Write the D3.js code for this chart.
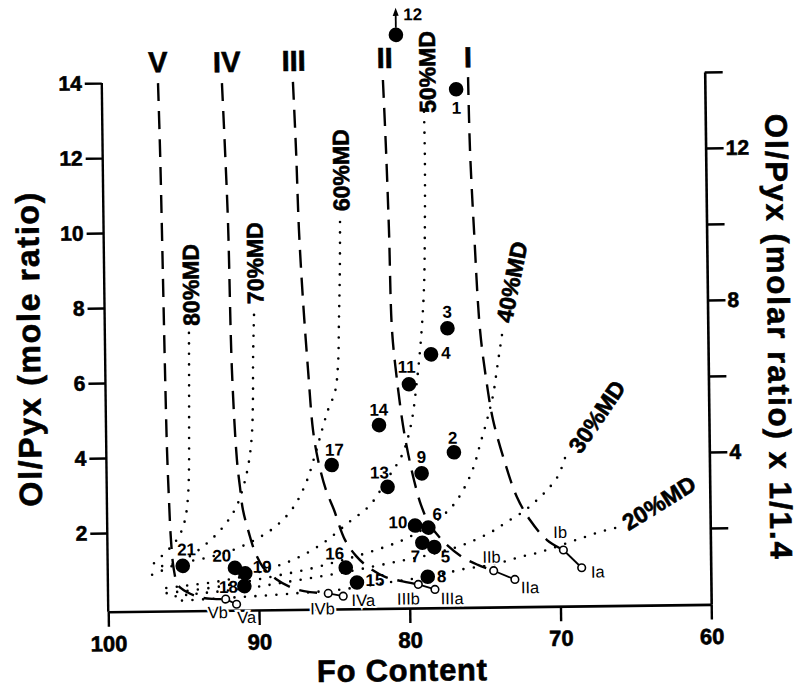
<!DOCTYPE html>
<html><head><meta charset="utf-8">
<script src="https://cdn.jsdelivr.net/npm/d3@7"></script>
<style>
body{margin:0;background:#fff}
svg{display:block}
text{font-family:"Liberation Sans",Arial,Helvetica,sans-serif;fill:#000}
.heavy{stroke:#000;stroke-width:0.6px}
</style>
</head><body>
<svg id="c" width="801" height="691"></svg>
<script>
// ---------------- DATA ----------------
const xTicks = [100, 90, 80, 70, 60];
const yTicksLeft = [2, 4, 6, 8, 10, 12, 14];
const yTicksRight = [2, 4, 6, 8, 10, 12, 14];
const yRightLabeled = [4, 8, 12];

// samples (filled circles)
const sampleIds   = ["1","12","3","4","11","14","2","9","17","13","10","6","7","5","8","15","16","21","20","19","18"];
const sampleFo    = [76.5,80.45,77.27,78.38,79.87,81.89,76.94,79.1,85.06,81.37,79.58,78.7,79.11,78.32,78.78,83.48,84.21,95.02,91.56,90.88,90.95];
const sampleRatio = [13.72,15.19,7.35,6.66,5.87,4.79,4.04,3.49,3.74,3.14,2.10,2.04,1.64,1.52,0.73,0.60,1.0,1.10,1.03,0.88,0.54];

// source compositions (open circles)
const srcIds   = ["Ia","Ib","IIa","IIb","IIIa","IIIb","IVa","IVb","Va","Vb"];
const srcFo    = [68.56,69.76,73.0,74.4,78.31,79.41,84.4,85.39,91.48,92.2];
const srcRatio = [0.92,1.40,0.63,0.87,0.39,0.53,0.24,0.32,0.06,0.20];

// residue trends (dashed), [Fo, Ol/Pyx], ending at the "b" source
const trendNames = ["I","II","III","IV","V"];
const trendI   = [[75.7,14.04],[75.63,12.1],[75.43,9.96],[75.11,7.29],[74.69,5.82],[74.32,4.89],[73.56,3.74],[72.8,2.83],[71.95,2.21],[70.84,1.67],[69.76,1.40]];
const trendII  = [[81.35,13.99],[81.2,12.12],[81.07,9.99],[80.95,7.32],[80.66,5.99],[80.3,4.78],[79.99,4.04],[79.61,3.31],[79.17,2.65],[78.59,2.11],[77.67,1.65],[76.49,1.25],[75.44,1.03],[74.4,0.87]];
const trendIII = [[87.32,13.97],[87.17,12.15],[87.04,10.02],[86.83,8.15],[86.55,6.28],[86.27,4.68],[85.96,3.88],[85.46,3.08],[84.94,2.54],[84.24,1.74],[83.52,1.31],[82.73,1.01],[81.61,0.74],[80.62,0.63],[79.41,0.53]];
const trendIV  = [[92.03,13.96],[91.88,12.18],[91.74,10.23],[91.6,6.31],[91.34,3.90],[91.16,3.18],[90.98,2.57],[90.6,1.95],[90.22,1.45],[89.7,1.04],[88.85,0.72],[87.73,0.47],[86.6,0.36],[85.39,0.32]];
const trendV   = [[96.27,13.98],[96.19,12.2],[96.13,10.06],[96.04,6.33],[95.97,4.19],[95.88,2.86],[95.78,1.79],[95.61,0.99],[95.35,0.59],[94.76,0.40],[93.91,0.26],[93.05,0.21],[92.2,0.20]];

// melting-degree lines (dotted)
const mdNames = ["80%MD","70%MD","60%MD","50%MD","40%MD","30%MD","20%MD"];
const md80 = [[94.42,7.31],[94.45,6.05],[94.49,4.72],[94.53,3.65],[94.61,2.98],[94.77,2.45],[95.04,2.06],[95.52,1.73],[96.19,1.45],[97.06,1.13]];
const md70 = [[90.09,7.77],[90.19,6.57],[90.23,5.50],[90.33,4.57],[90.55,3.85],[90.9,3.24],[91.38,2.69],[91.98,2.29],[92.66,1.97],[93.53,1.65],[94.53,1.36],[95.74,1.10],[97.07,0.87]];
const md60 = [[84.31,10.22],[84.36,8.94],[84.46,7.61],[84.56,6.41],[84.78,5.69],[85.26,5.21],[85.67,4.68],[86.16,4.01],[86.78,3.27],[87.66,2.61],[88.8,2.13],[90.21,1.77],[91.87,1.48],[93.54,1.30],[95.21,1.18],[96.86,1.07]];
const md50 = [[78.65,13.13],[78.63,11.85],[78.69,9.98],[78.8,8.38],[79.04,7.05],[79.33,5.98],[79.77,4.78],[80.39,3.98],[81.34,3.38],[82.55,2.66],[84.03,2.19],[85.7,1.66],[87.44,1.27],[89.1,1.02],[90.9,0.81],[92.9,0.66],[94.89,0.57],[96.75,0.49]];
const md40 = [[73.66,7.15],[73.98,6.35],[74.3,5.55],[74.72,4.89],[75.21,4.23],[75.62,3.67],[76.17,3.17],[76.91,2.69],[77.78,2.34],[78.92,2.03],[80.26,1.74],[81.59,1.54],[83.26,1.33],[84.92,1.15],[86.92,0.95],[88.91,0.80],[90.91,0.65],[92.9,0.52],[94.89,0.43],[96.55,0.36]];
const md30 = [[69.58,3.85],[70.06,3.37],[70.73,3.03],[71.47,2.74],[72.41,2.43],[73.48,2.17],[74.41,1.93],[75.48,1.72],[76.61,1.54],[77.94,1.39],[79.28,1.26],[80.6,1.16],[82.27,1.03],[84.27,0.88],[86.26,0.75],[88.25,0.63],[90.25,0.51],[92.24,0.42],[94.23,0.35],[96.03,0.27]];
const md20 = [[66.31,1.97],[67.32,1.87],[68.32,1.74],[69.31,1.61],[70.45,1.46],[71.51,1.33],[72.64,1.23],[73.77,1.10],[74.97,1.0],[76.3,0.93],[77.63,0.82],[78.96,0.73],[80.3,0.65],[81.62,0.58],[82.95,0.50],[84.28,0.43],[85.61,0.38],[87.26,0.34],[89.25,0.29],[91.25,0.25],[93.24,0.21],[95.36,0.17]];
const mdLabelFo    = [94.25, 89.98, 84.2, 78.4, 72.95, 67.42, 63.38];
const mdLabelRatio = [8.59, 9.15, 11.6, 14.19, 8.56, 4.94, 2.62];

// ---------------- STYLE ----------------
const mdAngle = [-90,-90,-90,-90,-78,-55,-31];
const sampleLabelOff = {"1":[0,19],"12":[17,-20],"3":[0,-16],"4":[15,-1],"11":[-2,-17],"14":[0,-15],"2":[-1,-14],"9":[0,-16],"17":[3,-15],"13":[-8,-14],"10":[-17,-3],"6":[9,-13],"7":[-7,14],"5":[11,10],"8":[14,0],"15":[18,-2],"16":[-11,-14],"21":[4,-16],"20":[-13,-12],"19":[17,-6],"18":[-16,1]};
const srcLabelOff = {"Ia":[16,4],"Ib":[-3,-18],"IIa":[15,8],"IIb":[-2,-14],"IIIa":[17,9],"IIIb":[-10,14],"IVa":[20,4],"IVb":[-6,15],"Va":[10,13],"Vb":[-8,13]};
const trendLabelOff = [[0,-10],[2,-12],[1,-11],[5,-11],[0,-11]];

// ---------------- CHART ----------------
const svg = d3.select("#c");
const g = svg.append("g").attr("transform","rotate(-0.7,405,345)");

const x  = d3.scaleLinear().domain([100,60]).range([105,708]);
const y  = d3.scaleLinear().domain([0,14]).range([604.4,79.4]);
const yR = d3.scaleLinear().domain([0,14]).range([607.7,75.7]);
const baseY = y(-0.1);

function styleAxis(sel, fs){
  sel.attr("font-family","'Liberation Sans',Arial,sans-serif").attr("font-size",fs).attr("font-weight","bold");
  sel.selectAll("line").attr("stroke","#000").attr("stroke-width",2.4);
  sel.selectAll("path.domain").attr("stroke","#000").attr("stroke-width",2.6);
  sel.selectAll("text").attr("fill","#000").attr("class","heavy");
}

// bottom axis
const xa = g.append("g").attr("transform",`translate(0,${baseY})`)
  .call(d3.axisBottom(x).tickValues(xTicks).tickSize(15).tickSizeOuter(0).tickPadding(9).tickFormat(d3.format("d")));
styleAxis(xa, 22);

// left axis
const ya = g.append("g").attr("transform",`translate(${x(100)},0)`)
  .call(d3.axisLeft(y).tickValues(yTicksLeft).tickSize(17).tickPadding(3));
ya.select(".domain").remove();
ya.append("line").attr("x1",0).attr("x2",0).attr("y1",y(14)).attr("y2",baseY);
styleAxis(ya, 21);

// right axis
const yra = g.append("g").attr("transform",`translate(${x(60)},0)`)
  .call(d3.axisRight(yR).tickValues(yTicksRight).tickSize(18).tickSizeOuter(0).tickPadding(2)
    .tickFormat(d => yRightLabeled.includes(d) ? d : ""));
styleAxis(yra, 21);

// titles
g.append("text").attr("class","heavy").attr("transform","translate(40,345) rotate(-90)")
  .attr("text-anchor","middle").attr("font-size",32).attr("font-weight","bold")
  .attr("textLength",314).attr("lengthAdjust","spacing")
  .text("Ol/Pyx (mole ratio)");
g.append("text").attr("class","heavy").attr("transform","translate(768,341) rotate(90)")
  .attr("text-anchor","middle").attr("font-size",31).attr("font-weight","bold")
  .attr("textLength",445).attr("lengthAdjust","spacing")
  .text("Ol/Pyx (molar ratio) x 1/1.4");
g.append("text").attr("class","heavy").attr("x",398).attr("y",681)
  .attr("text-anchor","middle").attr("font-size",31).attr("font-weight","bold")
  .attr("textLength",170).attr("lengthAdjust","spacing")
  .text("Fo Content");

const line = d3.line().x(d => x(d[0])).y(d => y(d[1])).curve(d3.curveCatmullRom.alpha(0.5));

// dotted MD lines
const mdSeries = [md80, md70, md60, md50, md40, md30, md20];
mdSeries.forEach(s => {
  g.append("path").attr("d", line(s)).attr("fill","none").attr("stroke","#000")
    .attr("stroke-width",2.6).attr("stroke-linecap","round").attr("stroke-dasharray","0 10.5");
});
mdNames.forEach((n,i) => {
  g.append("text").attr("class","heavy").attr("transform",`translate(${x(mdLabelFo[i])},${y(mdLabelRatio[i])}) rotate(${mdAngle[i]})`)
    .attr("text-anchor","middle").attr("dominant-baseline","central")
    .attr("font-size",23).attr("font-weight","bold").text(n);
});

// dashed trends
const trends = [trendI, trendII, trendIII, trendIV, trendV];
trends.forEach((s,i) => {
  g.append("path").attr("d", line(s)).attr("fill","none").attr("stroke","#000")
    .attr("stroke-width",2.4).attr("stroke-dasharray","18 10");
  const top = s[0], o = trendLabelOff[i];
  g.append("text").attr("class","heavy").attr("x", x(top[0]) + o[0]).attr("y", y(top[1]) + o[1])
    .attr("text-anchor","middle").attr("font-size",29).attr("font-weight","bold")
    .text(trendNames[i]);
});

// a-b tie lines
for (let i = 0; i < srcIds.length; i += 2) {
  g.append("line").attr("x1",x(srcFo[i])).attr("y1",y(srcRatio[i]))
    .attr("x2",x(srcFo[i+1])).attr("y2",y(srcRatio[i+1]))
    .attr("stroke","#000").attr("stroke-width",1.8);
}

// open circles
srcIds.forEach((id,i) => {
  g.append("circle").attr("cx",x(srcFo[i])).attr("cy",y(srcRatio[i])).attr("r",3.8)
    .attr("fill","#fff").attr("stroke","#000").attr("stroke-width",1.6);
});
srcIds.forEach((id,i) => {
  const o = srcLabelOff[id];
  g.append("text").attr("x",x(srcFo[i])+o[0]).attr("y",y(srcRatio[i])+o[1])
    .attr("text-anchor","middle").attr("dominant-baseline","central")
    .attr("font-size",16.5).attr("stroke","#fff").attr("stroke-width",4).attr("paint-order","stroke")
    .text(id);
});

// filled circles
sampleIds.forEach((id,i) => {
  g.append("circle").attr("cx",x(sampleFo[i])).attr("cy",y(sampleRatio[i])).attr("r",7.3).attr("fill","#000");
});
sampleIds.forEach((id,i) => {
  const o = sampleLabelOff[id];
  g.append("text").attr("x",x(sampleFo[i])+o[0]).attr("y",y(sampleRatio[i])+o[1])
    .attr("text-anchor","middle").attr("dominant-baseline","central")
    .attr("font-size",17).attr("font-weight","bold").text(id);
});

// arrow for sample 12 (off-scale)
const i12 = sampleIds.indexOf("12");
const ax = x(sampleFo[i12]), ay = y(sampleRatio[i12]);
g.append("line").attr("x1",ax).attr("x2",ax).attr("y1",ay-7).attr("y2",ay-22)
  .attr("stroke","#000").attr("stroke-width",1.8);
g.append("path").attr("d",`M${ax-3},${ay-19} L${ax},${ay-27} L${ax+3},${ay-19} Z`).attr("fill","#000");
</script>
</body></html>
